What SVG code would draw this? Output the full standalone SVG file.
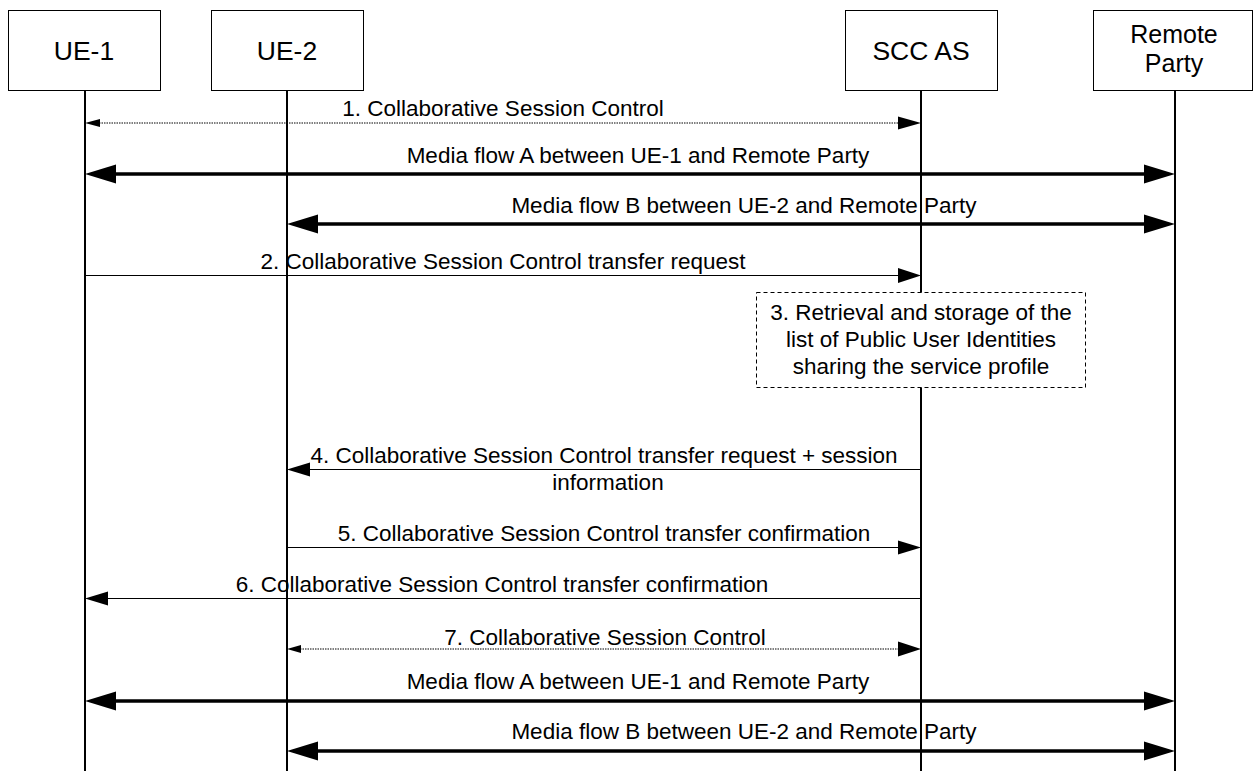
<svg xmlns="http://www.w3.org/2000/svg" width="1253" height="772" viewBox="0 0 1253 772">
<style>
.box{fill:#fff;stroke:#000;stroke-width:1}
.life{stroke:#000;stroke-width:2}
.hd{font-family:"Liberation Sans",Arial,sans-serif;font-size:26.5px;text-anchor:middle;fill:#000}
.lb{font-family:"Liberation Sans",Arial,sans-serif;font-size:22.5px;text-anchor:middle;fill:#000}
.thin{stroke:#000;stroke-width:1;fill:none}
.dot{stroke:#000;stroke-width:1;stroke-dasharray:1.5 1;fill:none}
.thick{stroke:#000;stroke-width:3.5;fill:none}
.dash{fill:#fff;stroke:#000;stroke-width:1;stroke-dasharray:4 3}
</style>
<rect width="1253" height="772" fill="#fff"/>
<g id="lifelines">
<line class="life" x1="85" y1="90" x2="85" y2="771"/>
<line class="life" x1="287" y1="91" x2="287" y2="771"/>
<line class="life" x1="921" y1="91" x2="921" y2="771"/>
<line class="life" x1="1175" y1="90" x2="1175" y2="771"/>
</g>
<g id="ue1"><rect class="box" x="8.5" y="10.5" width="152" height="80"/><text class="hd" x="84" y="60">UE-1</text></g>
<g id="ue2"><rect class="box" x="211.5" y="10.5" width="152" height="80"/><text class="hd" x="287" y="60">UE-2</text></g>
<g id="sccas"><rect class="box" x="845.5" y="10.5" width="152" height="80"/><text class="hd" x="921" y="60">SCC AS</text></g>
<g id="remote"><rect class="box" x="1093.5" y="10.5" width="159" height="80"/><text class="hd" x="1174" y="43" style="font-size:25px">Remote</text><text class="hd" x="1174" y="72" style="font-size:25px">Party</text></g>
<g id="step3"><rect class="dash" x="756.5" y="292.5" width="329" height="95"/>
<text class="lb" x="921" y="320">3. Retrieval and storage of the</text>
<text class="lb" x="921" y="347">list of Public User Identities</text>
<text class="lb" x="921" y="374">sharing the service profile</text></g>
<g id="connectors">
<line class="dot" x1="99" y1="123" x2="899" y2="123"/>
<polygon points="85,123 100,119 100,127"/>
<polygon points="921,123 898,116.5 898,129.5"/>
<text class="lb" x="503" y="116">1. Collaborative Session Control</text>

<line class="thick" x1="110" y1="174" x2="1150" y2="174"/>
<polygon points="85,174 116,164.5 116,183.5"/>
<polygon points="1175,174 1144,164.5 1144,183.5"/>
<text class="lb" x="638" y="163">Media flow A between UE-1 and Remote Party</text>

<line class="thick" x1="312" y1="224" x2="1150" y2="224"/>
<polygon points="287,224 318,214.5 318,233.5"/>
<polygon points="1175,224 1144,214.5 1144,233.5"/>
<text class="lb" x="744" y="213">Media flow B between UE-2 and Remote Party</text>

<line class="thin" x1="85" y1="275.5" x2="900" y2="275.5"/>
<polygon points="921,275.5 898,268 898,283"/>
<text class="lb" x="503" y="269">2. Collaborative Session Control transfer request</text>

<line class="thin" x1="308" y1="469.5" x2="921" y2="469.5"/>
<polygon points="287,469.5 310,462.5 310,476.5"/>
<text class="lb" x="604" y="463">4. Collaborative Session Control transfer request + session</text>
<text class="lb" x="608" y="490">information</text>

<line class="thin" x1="287" y1="547.5" x2="900" y2="547.5"/>
<polygon points="921,547.5 898,540.5 898,554.5"/>
<text class="lb" x="604" y="541">5. Collaborative Session Control transfer confirmation</text>

<line class="thin" x1="106" y1="598.5" x2="921" y2="598.5"/>
<polygon points="85,598.5 108,591.5 108,605.5"/>
<text class="lb" x="502" y="592">6. Collaborative Session Control transfer confirmation</text>

<line class="dot" x1="300" y1="649" x2="899" y2="649"/>
<polygon points="287,649 301,645 301,653"/>
<polygon points="921,649 898,641.5 898,656.5"/>
<text class="lb" x="605" y="645">7. Collaborative Session Control</text>

<line class="thick" x1="110" y1="701" x2="1150" y2="701"/>
<polygon points="85,701 116,691.5 116,710.5"/>
<polygon points="1175,701 1144,691.5 1144,710.5"/>
<text class="lb" x="638" y="689">Media flow A between UE-1 and Remote Party</text>

<line class="thick" x1="312" y1="751" x2="1150" y2="751"/>
<polygon points="287,751 318,741.5 318,760.5"/>
<polygon points="1175,751 1144,741.5 1144,760.5"/>
<text class="lb" x="744" y="739">Media flow B between UE-2 and Remote Party</text>
</g>
</svg>
